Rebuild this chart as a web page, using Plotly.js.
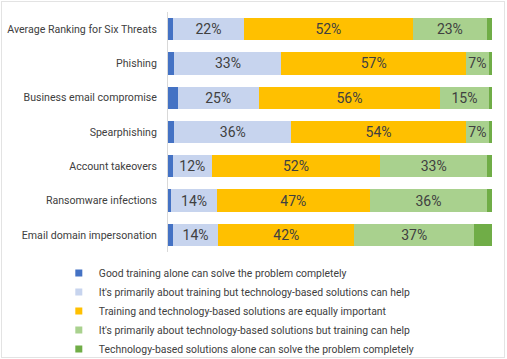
<!DOCTYPE html>
<html>
<head>
<meta charset="utf-8">
<script src="https://cdn.plot.ly/plotly-3.0.1.min.js"></script>
<style>
html,body{margin:0;padding:0;background:#fff;}
#wrap{position:relative;width:507px;height:359px;}
#chart{width:507px;height:359px;}
#frame{position:absolute;left:1px;top:1px;width:502px;height:355px;border:1px solid #e3e3e3;pointer-events:none;}
</style>
</head>
<body>
<div id="wrap"><div id="chart"></div><div id="frame"></div></div>
<script>
const categories = [
  "Average Ranking for Six Threats",
  "Phishing",
  "Business email compromise",
  "Spearphishing",
  "Account takeovers",
  "Ransomware infections",
  "Email domain impersonation"
];
const seriesNames = [
  "Good training alone can solve the problem completely",
  "It's primarily about training but technology-based solutions can help",
  "Training and technology-based solutions are equally important",
  "It's primarily about technology-based solutions but training can help",
  "Technology-based solutions alone can solve the problem completely"
];
const trainingAlone      = [1.5, 2, 3, 2, 1.5, 1, 1.5];
const primarilyTraining  = [22, 33, 25, 36, 12, 14, 14];
const equallyImportant   = [52, 57, 56, 54, 52, 47, 42];
const primarilyTech      = [23, 7, 15, 7, 33, 36, 37];
const techAlone          = [1.5, 1, 1, 1, 1.5, 1.5, 5.5];
const colors = ["#4472C4", "#C7D4EE", "#FFC000", "#A9D18E", "#70AD47"];
const seriesValues = [trainingAlone, primarilyTraining, equallyImportant, primarilyTech, techAlone];
const labelled = [false, true, true, true, false];
const FONT = "Roboto, 'Liberation Sans', sans-serif";

const traces = [];
seriesValues.forEach((vals, i) => {
  traces.push({
    type: "bar",
    orientation: "h",
    name: seriesNames[i],
    y: categories,
    x: vals,
    marker: {color: colors[i], line: {width: 0}},
    text: labelled[i] ? vals.map(v => v + "%") : vals.map(() => ""),
    textposition: labelled[i] ? "inside" : "none",
    insidetextanchor: "middle",
    constraintext: "none",
    textfont: {family: FONT, size: 14, color: "#404040"},
    showlegend: false,
    hoverinfo: "none"
  });
});
seriesValues.forEach((vals, i) => {
  traces.push({
    type: "scatter",
    mode: "markers",
    name: seriesNames[i],
    x: [null],
    y: [null],
    marker: {symbol: "square", size: 7, color: colors[i]},
    showlegend: true,
    hoverinfo: "none"
  });
});

const layout = {
  width: 507,
  height: 359,
  margin: {l: 168, r: 15, t: 12, b: 107, autoexpand: false},
  paper_bgcolor: "#ffffff",
  plot_bgcolor: "#ffffff",
  barmode: "stack",
  barnorm: "percent",
  bargap: 0.35,
  font: {family: FONT, size: 11, color: "#404040"},
  xaxis: {
    range: [0, 100],
    showgrid: false,
    zeroline: false,
    showticklabels: false,
    showline: false,
    fixedrange: true
  },
  yaxis: {
    autorange: "reversed",
    showgrid: false,
    zeroline: false,
    showline: true,
    linecolor: "#d9d9d9",
    linewidth: 1,
    ticks: "",
    ticklabelstandoff: 8,
    automargin: false,
    tickfont: {family: FONT, size: 10.6, color: "#404040"},
    fixedrange: true
  },
  legend: {
    orientation: "v",
    traceorder: "normal",
    x: -0.337,
    xanchor: "left",
    y: -0.027,
    yanchor: "top",
    font: {family: FONT, size: 10.4, color: "#404040"},
    itemwidth: 30,
    tracegroupgap: 0,
    bgcolor: "rgba(0,0,0,0)"
  },
  showlegend: true
};

Plotly.newPlot("chart", traces, layout, {displayModeBar: false, staticPlot: true});
</script>
</body>
</html>
